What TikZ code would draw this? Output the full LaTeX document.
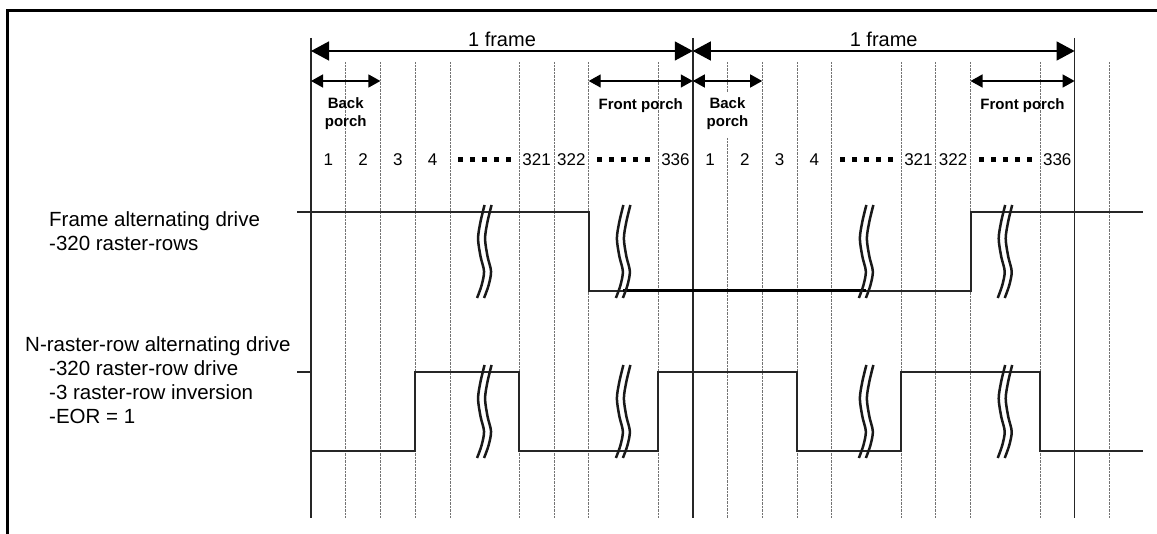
\documentclass[tikz,border=0pt]{standalone}
\usepackage{fontspec}
\setmainfont{Liberation Sans}
\usetikzlibrary{arrows.meta}
\begin{document}
\begin{tikzpicture}[x=1pt,y=-1pt,
  gridsolid/.style={line width=1.5pt, black!85},
  griddot/.style={line width=0.6pt, black!55, dash pattern=on 0.7pt off 0.7pt},
  sig/.style={line width=2pt, black!85, line join=miter},
  sigthick/.style={line width=3pt, black},
  brkline/.style={line width=2.5pt, black!90},
  framearrow/.style={line width=1.4pt, {Triangle[length=18pt,width=19pt]}-{Triangle[length=18pt,width=19pt]}},
  porcharrow/.style={line width=1.4pt, {Triangle[length=12pt,width=13pt]}-{Triangle[length=12pt,width=13pt]}},
  numlbl/.style={font=\fontsize{17}{17}\selectfont, inner sep=0pt},
  porchlbl/.style={font=\bfseries\fontsize{15}{18}\selectfont, align=center, inner sep=0pt},
  framelbl/.style={font=\fontsize{20}{20}\selectfont, inner sep=0pt, anchor=base},
  sidelbl/.style={font=\fontsize{20.5}{21}\selectfont, inner sep=0pt, anchor=base west},
  sq/.style={fill=black, minimum size=5pt, inner sep=0pt, draw=none},
  brk/.pic={
    \draw[brkline] plot[smooth] coordinates {(1,-46.5) (-3,-30) (-5.5,-13) (-3,5) (0.5,20) (-2,34) (-6.5,46.5)};
    \draw[brkline] plot[smooth] coordinates {(8,-46.5) (4,-30) (1.5,-13) (4,5) (7.5,20) (5,34) (0.5,46.5)};
  }
]
\useasboundingbox (0,0) rectangle (1157,534);
% outer frame (top and left)
\draw[line width=2.6pt, line join=miter] (7.5,534) -- (7.5,10.7) -- (1157,10.7);

% grid lines
\foreach \k in {0,11,22} \draw[gridsolid] ({311+\k*34.71},38) -- ({311+\k*34.71},518);
\foreach \k in {1,2,3,4,6,7,8,10,13,14,15,17,18,19,21,23} \draw[griddot] ({311+\k*34.71},62) -- ({311+\k*34.71},518);
\draw[griddot] ({311+12*34.71},62) -- ({311+12*34.71},92);
\draw[griddot] ({311+12*34.71},138) -- ({311+12*34.71},518);

% frame arrows
\coordinate (a0) at (311,51);
\coordinate (a1) at (692.8,51);
\coordinate (a2) at (1074.6,51);
\draw[framearrow] (a0) -- (a1);
\draw[framearrow] (a1) -- (a2);
\node[framelbl] (fr1) at (502,46.5) {1 frame};
\node[framelbl] (fr2) at (883.7,46.5) {1 frame};

% porch arrows
\coordinate (b0) at (311,81);
\coordinate (b1) at (380.4,81);
\coordinate (c0) at (588.7,81);
\coordinate (c1) at (692.8,81);
\coordinate (b2) at (692.8,81);
\coordinate (b3) at (762.2,81);
\coordinate (c2) at (970.5,81);
\coordinate (c3) at (1074.6,81);
\draw[porcharrow] (b0) -- (b1);
\draw[porcharrow] (c0) -- (c1);
\draw[porcharrow] (b2) -- (b3);
\draw[porcharrow] (c2) -- (c3);
\node[porchlbl] (bp1) at (345.7,114) {Back\\porch};
\node[porchlbl] (fp1) at (640.7,105.5) {Front porch};
\node[porchlbl] (bp2) at (727.5,114) {Back\\porch};
\node[porchlbl] (fp2) at (1022.5,105.5) {Front porch};

% row numbers
\foreach \c/\t [count=\i] in {0/1,1/2,2/3,3/4,6/321,7/322,10/336,11/1,12/2,13/3,14/4,17/321,18/322,21/336}
  \node[numlbl] (n\i) at ({311+(\c+0.5)*34.71},160) {\t};
\foreach \m [count=\j] in {5,9,16,20}
  \foreach \d [count=\q] in {-24,-12,0,12,24}
    \node[sq] (s\j\q) at ({311+\m*34.71+\d},160) {};

% side labels
\node[sidelbl] (l1) at (49,227) {Frame alternating drive};
\node[sidelbl] (l2) at (49,250.5) {-320 raster-rows};
\node[sidelbl] (l3) at (25,352) {N-raster-row alternating drive};
\node[sidelbl] (l4) at (49,375.5) {-320 raster-row drive};
\node[sidelbl] (l5) at (49,399.5) {-3 raster-row inversion};
\node[sidelbl] (l6) at (49,423.5) {-EOR = 1};

% frame alternating signal
\draw[sig] (297,211.7) -- (588.7,211.7) -- (588.7,291) -- (623.4,291);
\draw[sigthick] (623.4,291) -- (866.3,291);
\draw[sig] (866.3,291) -- (970.5,291) -- (970.5,211.7) -- (1143,211.7);

% N-raster-row signal
\draw[sig] (297,371.7) -- (311,371.7) -- (311,451) -- (415.1,451) -- (415.1,371.7)
  -- (519.3,371.7) -- (519.3,451) -- (658.1,451) -- (658.1,371.7)
  -- (796.9,371.7) -- (796.9,451) -- (901.1,451) -- (901.1,371.7)
  -- (1039.9,371.7) -- (1039.9,451) -- (1143,451);

% break marks
\foreach \m in {5,9,16,20} {
  \pic at ({311+\m*34.71-1},251.5) {brk};
  \pic at ({311+\m*34.71-1},411.5) {brk};
}
\end{tikzpicture}
\end{document}
